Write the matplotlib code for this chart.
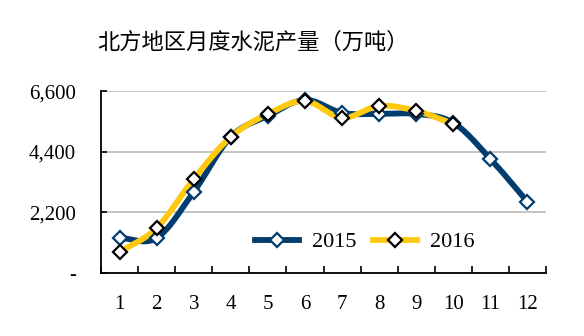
import numpy as np
import matplotlib
matplotlib.use('Agg')
import matplotlib.pyplot as plt
from matplotlib.ticker import FixedLocator, FuncFormatter

months = list(range(1, 13))
month_labels = [str(m) for m in months]
cement_2015 = [1270, 1270, 2940, 4940, 5700, 6280, 5810, 5770, 5770, 5450, 4140, 2580]
cement_2016 = [760, 1630, 3410, 4940, 5770, 6240, 5630, 6060, 5880, 5410]
y_ticks = [0, 2200, 4400, 6600]

NAVY = '#013C6E'
GOLD = '#FFC910'
SERIF = ['Liberation Serif', 'DejaVu Serif']


def smooth(x, y, n=24):
    # Catmull-Rom pass through every point, like a spreadsheet "smoothed line"
    x = np.asarray(x, float)
    y = np.asarray(y, float)
    px = np.concatenate([[2 * x[0] - x[1]], x, [2 * x[-1] - x[-2]]])
    py = np.concatenate([[2 * y[0] - y[1]], y, [2 * y[-1] - y[-2]]])
    xs, ys = [], []
    t = np.linspace(0, 1, n, endpoint=False)
    for i in range(1, len(px) - 2):
        for p, out in ((px, xs), (py, ys)):
            p0, p1, p2, p3 = p[i - 1], p[i], p[i + 1], p[i + 2]
            out.extend(0.5 * (2 * p1 + (-p0 + p2) * t
                              + (2 * p0 - 5 * p1 + 4 * p2 - p3) * t ** 2
                              + (-p0 + 3 * p1 - 3 * p2 + p3) * t ** 3))
    xs.append(x[-1])
    ys.append(y[-1])
    return np.array(xs), np.array(ys)


fig = plt.figure(figsize=(5.84, 3.36), dpi=100)
ax = fig.add_axes([0.173, 0.1875, 0.762, 0.5415])

for vals, color, edge, label in [(cement_2015, NAVY, NAVY, '2015'),
                                 (cement_2016, GOLD, 'black', '2016')]:
    xm = months[:len(vals)]
    sx, sy = smooth(xm, vals)
    ax.plot(sx, sy, color=color, lw=4.2, solid_capstyle='butt', zorder=3)
    ax.plot(xm, vals, ls='none', marker='D', ms=7, mfc='white', mec=edge, mew=1.6, zorder=4)
    ax.plot([], [], color=color, lw=4.2, marker='D', ms=7, mfc='white', mec=edge,
            mew=1.6, label=label)

ax.set_xlim(0.5, 12.5)
ax.set_ylim(0, 6600)
ax.set_yticks(y_ticks)
ax.yaxis.set_major_formatter(FuncFormatter(lambda v, p: '-' if v == 0 else f'{int(v):,}'))
ax.set_xticks(months)
ax.set_xticklabels(month_labels)
ax.xaxis.set_minor_locator(FixedLocator(np.arange(0.5, 13, 1)))
ax.tick_params(axis='x', which='major', length=0, pad=16)
ax.tick_params(axis='x', which='minor', direction='in', length=5, width=1.2)
ax.tick_params(axis='y', direction='in', length=4, width=1.2, pad=18)
for lab in ax.get_xticklabels() + ax.get_yticklabels():
    lab.set_fontfamily(SERIF)
    lab.set_fontsize(15)

ax.grid(axis='y', color='#BFBFBF', lw=1.3)
ax.set_axisbelow(True)
for side in ['top', 'right']:
    ax.spines[side].set_visible(False)
for side in ['left', 'bottom']:
    ax.spines[side].set_linewidth(1.3)

leg = ax.legend(loc='center left', bbox_to_anchor=(0.346, 0.17), ncol=2, frameon=False,
                prop={'family': SERIF, 'size': 16}, handlelength=2.0,
                handletextpad=0.55, columnspacing=0.75, borderpad=0, borderaxespad=0)

fig.text(0.166, 0.875, '北方地区月度水泥产量（万吨）', fontsize=16,
         family=['Noto Sans CJK SC', 'DejaVu Sans'], va='center')

fig.savefig('out.png', dpi=100)
